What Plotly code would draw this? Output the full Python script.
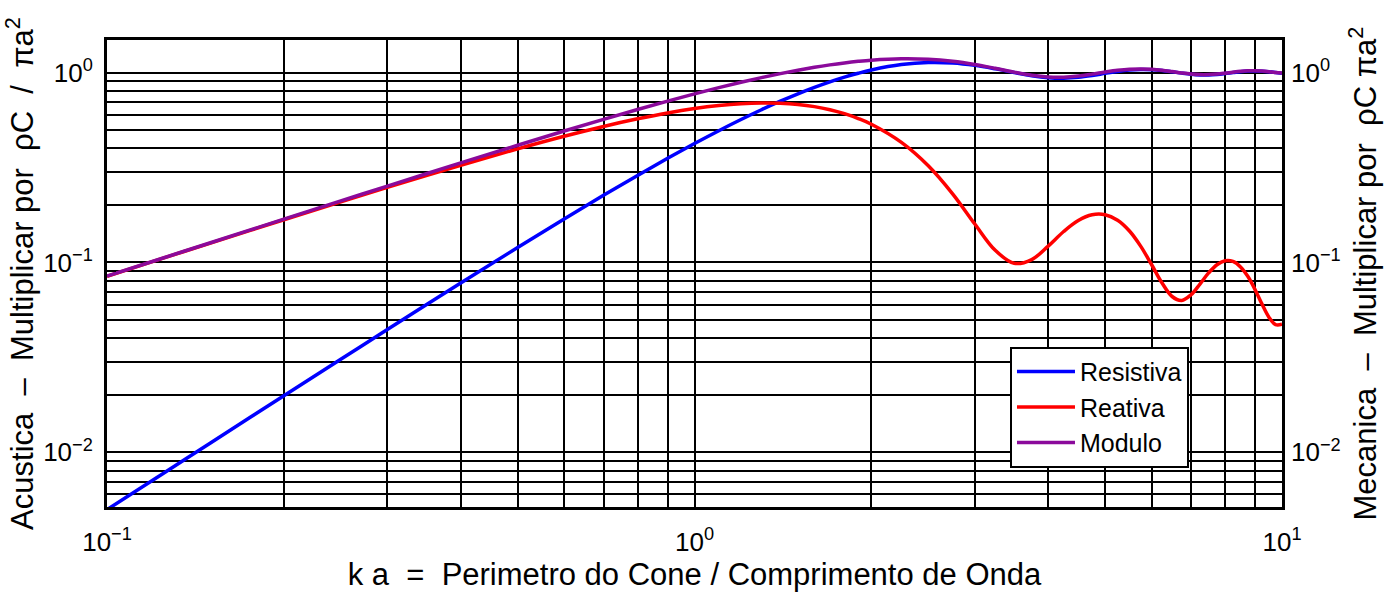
import plotly.graph_objects as go

# ka = perimeter of the cone / wavelength
ka = [0.1, 0.125, 0.15, 0.2, 0.25, 0.3, 0.4, 0.5, 0.6, 0.7, 0.8, 0.9, 1.0,
      1.1, 1.2, 1.3, 1.4, 1.5, 1.6, 1.7, 1.8, 1.9, 2.0, 2.25, 2.5, 2.75,
      3.0, 3.25, 3.5, 3.75, 4.0, 4.25, 4.5, 4.75, 5.0, 5.25, 5.5, 5.75,
      6.0, 6.25, 6.5, 6.75, 7.0, 7.25, 7.5, 7.75, 8.0, 8.25, 8.5, 8.75,
      9.0, 9.25, 9.5, 9.75, 10.0]

# normalised radiation resistance
resistiva = [0.00499, 0.00779, 0.01121, 0.01987, 0.03093, 0.04433, 0.0779,
             0.1199, 0.1695, 0.2258, 0.2876, 0.3539, 0.4233, 0.4946, 0.5665,
             0.6379, 0.7074, 0.7739, 0.8367, 0.8946, 0.9469, 0.9933, 1.033,
             1.1027, 1.131, 1.1242, 1.0922, 1.0473, 1.0013, 0.964, 0.9414,
             0.9357, 0.9455, 0.966, 0.9913, 1.015, 1.0322, 1.0397, 1.0372,
             1.0265, 1.0108, 0.9944, 0.9809, 0.9733, 0.9727, 0.9784, 0.9887,
             1.0007, 1.0115, 1.0187, 1.0209, 1.018, 1.0111, 1.0021, 0.9933]

# normalised radiation reactance
reativa = [0.08466, 0.10566, 0.12656, 0.16797, 0.2087, 0.2486, 0.3253,
           0.3969, 0.4624, 0.5208, 0.5713, 0.6135, 0.6468, 0.671, 0.6863,
           0.6926, 0.6904, 0.6801, 0.6624, 0.6381, 0.6081, 0.5734, 0.5349,
           0.4293, 0.3232, 0.2299, 0.1595, 0.1159, 0.099, 0.1036, 0.122,
           0.1456, 0.1663, 0.1783, 0.1784, 0.1669, 0.1465, 0.1216, 0.0973,
           0.0779, 0.0662, 0.0631, 0.0676, 0.077, 0.0881, 0.0973, 0.1021,
           0.1013, 0.0948, 0.0843, 0.0719, 0.0602, 0.0515, 0.0471, 0.0473]

# magnitude of the impedance
modulo = [0.08481, 0.10595, 0.12706, 0.16914, 0.21098, 0.25252, 0.3345,
          0.4146, 0.4925, 0.5676, 0.6396, 0.7082, 0.773, 0.8336, 0.8899,
          0.9416, 0.9884, 1.0303, 1.0672, 1.0989, 1.1254, 1.1469, 1.1633,
          1.1833, 1.1763, 1.1474, 1.1038, 1.0537, 1.0062, 0.9695, 0.9492,
          0.947, 0.96, 0.9824, 1.0072, 1.0286, 1.0425, 1.0468, 1.0418,
          1.0294, 1.013, 0.9964, 0.9833, 0.9764, 0.9766, 0.9833, 0.994,
          1.0058, 1.0159, 1.0222, 1.0234, 1.0198, 1.0124, 1.0032, 0.9944]

series_names = ["Resistiva", "Reativa", "Modulo"]
series_colors = ["#0000ff", "#ff0000", "#8b0a9b"]

# gridline positions (every 1..9 of each decade) and their labels
x_ticks = [0.1, 0.2, 0.3, 0.4, 0.5, 0.6, 0.7, 0.8, 0.9,
           1, 2, 3, 4, 5, 6, 7, 8, 9, 10]
x_labels = ["10<sup>\u22121</sup>"] + [""] * 8 + ["10<sup>0</sup>"] + [""] * 8 + ["10<sup>1</sup>"]
y_ticks = [0.005, 0.006, 0.007, 0.008, 0.009,
           0.01, 0.02, 0.03, 0.04, 0.05, 0.06, 0.07, 0.08, 0.09,
           0.1, 0.2, 0.3, 0.4, 0.5, 0.6, 0.7, 0.8, 0.9, 1.0]
y_labels = [""] * 5 + ["10<sup>\u22122</sup>"] + [""] * 8 + ["10<sup>\u22121</sup>"] + [""] * 8 + ["10<sup>0</sup>"]

FONT = "Liberation Sans, Arial, Helvetica, sans-serif"
TICK_SIZE = 26
TITLE_SIZE = 31
nb = "\u00a0"

fig = go.Figure()
for name, vals, col in zip(series_names, [resistiva, reativa, modulo], series_colors):
    fig.add_trace(go.Scatter(
        x=ka, y=vals, name=name, mode="lines",
        line=dict(color=col, width=3.5, shape="spline", smoothing=1.0),
    ))
# carrier for the right-hand axis
fig.add_trace(go.Scatter(x=ka, y=modulo, yaxis="y2", mode="lines",
                         line=dict(color="rgba(0,0,0,0)", width=0),
                         showlegend=False, hoverinfo="skip"))

y_range = [-2.288, 0.172]
axis_common = dict(
    type="log", showgrid=True, gridcolor="black", gridwidth=2,
    showline=True, linecolor="black", linewidth=3, mirror=True,
    ticks="inside", ticklen=9, tickwidth=2, tickcolor="black",
    tickfont=dict(family=FONT, size=TICK_SIZE, color="black"),
    zeroline=False,
)

fig.update_layout(
    width=1400, height=594,
    margin=dict(l=107, r=118, t=40, b=87),
    paper_bgcolor="white", plot_bgcolor="white",
    font=dict(family=FONT, color="black"),
    xaxis=dict(
        **axis_common, range=[-1, 1],
        tickvals=x_ticks, ticktext=x_labels, ticklabelstandoff=10,
        title=dict(text=f"k a {nb}={nb} Perimetro do Cone / Comprimento de Onda",
                   font=dict(family=FONT, size=TITLE_SIZE), standoff=2),
    ),
    yaxis=dict(
        **axis_common, range=y_range,
        tickvals=y_ticks, ticktext=y_labels, ticklabelstandoff=6,
        title=dict(text=f"Acustica {nb}\u2013{nb} Multiplicar por {nb}ρC {nb}/{nb} πa<sup>2</sup>",
                   font=dict(family=FONT, size=TITLE_SIZE), standoff=4),
    ),
    yaxis2=dict(
        type="log", range=y_range, overlaying="y", side="right",
        showgrid=False, showline=False, zeroline=False,
        ticks="", tickvals=y_ticks, ticktext=y_labels, ticklabelstandoff=8,
        tickfont=dict(family=FONT, size=TICK_SIZE, color="black"),
        title=dict(text=f"Mecanica {nb}\u2013{nb} Multiplicar por {nb}ρC πa<sup>2</sup>",
                   font=dict(family=FONT, size=TITLE_SIZE), standoff=14),
    ),
    legend=dict(
        x=0.7685, y=0.343, xanchor="left", yanchor="top",
        bgcolor="white", bordercolor="black", borderwidth=2,
        font=dict(family=FONT, size=25, color="black"),
        tracegroupgap=0, itemwidth=58,
    ),
    showlegend=True,
)

fig.write_html("out.html")
